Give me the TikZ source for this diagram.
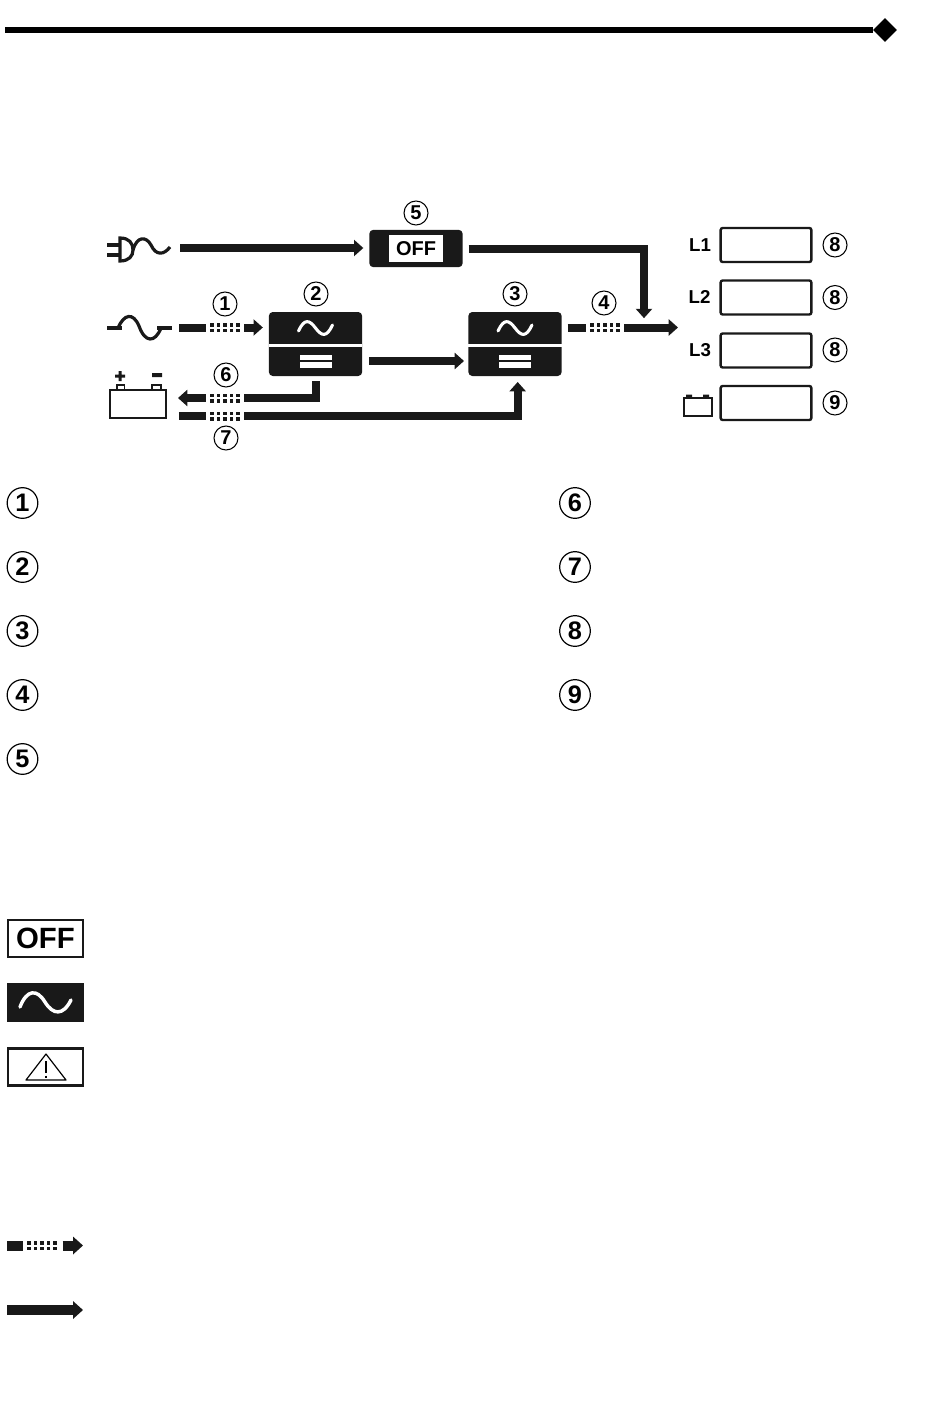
\documentclass[tikz,border=0pt]{standalone}
\usepackage{fontspec}
\setmainfont{Liberation Sans}
\usetikzlibrary{calc,arrows.meta,shapes.geometric}
\tikzset{
  numsmall/.style={circle,draw,line width=.8pt,minimum size=18pt,inner sep=0pt,font=\fontsize{15}{15}\selectfont\bfseries},
  numbig/.style={circle,draw,line width=.9pt,minimum size=23pt,inner sep=0pt,font=\fontsize{19}{19}\selectfont\bfseries},
  upsbox/.style={fill=black!90,rounded corners=3pt,minimum width=70pt,minimum height=48pt,inner sep=0pt,outer sep=0pt},
  display/.style={draw=black!90,line width=1.8pt,rounded corners=1.5pt,minimum width=68pt,minimum height=25.5pt,inner sep=0pt,outer sep=0pt},
  iconbox/.style={draw=black!90,line width=1.8pt,minimum width=56pt,minimum height=28pt,inner sep=0pt,outer sep=0pt},
  bar/.style={draw=black!90,line width=6pt},
  flow/.style={bar,-{Triangle[width=12pt,length=7pt]}},
  dotrun/.style={minimum width=29pt,minimum height=6pt,inner sep=0pt,outer sep=0pt,
    path picture={\foreach \dx in {-13,-6.5,0,6.5,13} \foreach \dy in {-3,3}
      \fill[black!90] ($(path picture bounding box.center)+(\dx,\dy)+(-1.75,-2)$) rectangle +(3.5,4);}},
  acwave/.pic={\draw[white,line width=2.3pt,line cap=round] (-17,3) .. controls (-11,-10) and (-6,-8) .. (0,0) .. controls (6,8) and (11,10) .. (17,-3);},
  icon/.style={black!90,line width=2.4pt}
}
\begin{document}
\begin{tikzpicture}[x=.75pt,y=-.75pt]
\useasboundingbox (0,0) rectangle (950,1409);
% header rule
\node[diamond,fill=black,minimum size=18pt,inner sep=0pt] (mark) at (885,30) {};
\coordinate (rulestart) at (5,30);
\draw[line width=3.8pt] (rulestart) -- (mark);
% blocks
\node[upsbox,minimum height=28pt] (offbox) at (416,248.5) {};
\node[fill=white,minimum width=40.5pt,minimum height=20pt,inner sep=0pt,font=\fontsize{15}{15}\selectfont\bfseries] (offtext) at (416,248.5) {OFF};
\foreach \n/\x in {rectifier/315.5,inverter/515} {
  \node[upsbox] (\n) at (\x,344) {};
  \fill[white] ($(\n.west)+(0,-.5)$) rectangle ($(\n.east)+(0,3)$);
  \pic at (\x,328) {acwave};
  \fill[white] ($(\n.center)+(-16,11)$) rectangle +(32,5);
  \fill[white] ($(\n.center)+(-16,18)$) rectangle +(32,6);
}
% plug
\draw[icon] (107,245) -- (119,245) (107,255) -- (119,255);
\draw[icon,fill=white] (120,238) .. controls (129,238) and (133,243) .. (133,250) .. controls (133,256) and (129,261) .. (120,261) -- cycle;
\draw[icon] (133,250) .. controls (137,236) and (146,236) .. (151,245) .. controls (156,256) and (164,255) .. (170,247);
% mains
\draw[icon] (107,328) -- (122,328) (157,328) -- (172,328);
\draw[icon] (118,328) .. controls (124,314) and (133,312) .. (139,326) .. controls (145,343) and (155,343) .. (161,328);
% battery
\draw[black!90,line width=1.3pt,fill=white] (117,385) rectangle (124.5,390) (152,385) rectangle (161,390);
\node[draw=black!90,line width=2pt,minimum width=42pt,minimum height=21pt,inner sep=0pt,outer sep=0pt] (battery) at (138,404) {};
\fill[black!90] (115,374.5) rectangle (125,377.5) (118.5,371) rectangle (121.5,381) (152,373) rectangle (162,377);
% small battery
\draw[icon,line width=1.6pt] (684,398) rectangle (712,416);
\fill[black!90] (686,394.5) rectangle (692,398) (703,394.5) rectangle (709,398);
% displays
\foreach \n/\y in {loadone/245,loadtwo/297.5,loadthree/350.5,batbar/403} \node[display] (\n) at (766,\y) {};
\foreach \n/\t/\y/\x in {labone/L1/245/700,labtwo/L2/297/699.5,labthree/L3/350/700}
  \node[font=\fontsize{14}{14}\selectfont\bfseries,inner sep=0pt] (\n) at (\x,\y) {\t};
\foreach \n/\k/\y in {tagone/8/245,tagtwo/8/297.5,tagthree/8/350,tagfour/9/403}
  \node[numsmall] (\n) at (835,\y) {\k};
% tags
\foreach \n/\k/\x/\y in {taga/1/225/304,tagb/2/316/294,tagc/3/515/294,tagd/4/604/303,tage/5/416/213,tagf/6/226/375,tagg/7/226/438}
  \node[numsmall] (\n) at (\x,\y) {\k};
% dotted runs
\node[dotrun] (dotsa) at (225,327.5) {};
\node[dotrun] (dotsd) at (605,327.5) {};
\node[dotrun] (dotsf) at (225,398) {};
\node[dotrun] (dotsg) at (225,416) {};
\coordinate (plugend) at (180,248);
\coordinate (mainsend) at (179,327.5);
\coordinate (outjoin) at (644,327.5);
\coordinate (outend) at (678,327.5);
\coordinate (batarrow) at (178,398);
\coordinate (linkstart) at (369,361);
\coordinate (linkend) at (464,361);
% connectors
\draw[flow,shorten >=4.5pt] (plugend) -- (plugend -| offbox.west);
\draw[bar] (mainsend) -- (dotsa.west);
\draw[flow,shorten >=4.5pt] (dotsa.east) -- (dotsa.east -| rectifier.west);
\draw[flow] (linkstart) -- (linkend);
\draw[flow,shorten <=4.5pt,shorten >=7pt] (offbox.east) -| (outjoin);
\draw[bar,shorten <=4.5pt] (inverter.east |- dotsd) -- (dotsd.west);
\draw[flow] (dotsd.east) -- (outend);
\draw[bar,shorten <=3.75pt] (rectifier.south) |- (dotsf.east);
\draw[flow] (dotsf.west) -- (batarrow);
\draw[bar,shorten <=9.7pt] (battery.east |- dotsg) -- (dotsg.west);
\draw[flow,shorten >=4.5pt] (dotsg.east) -| ([xshift=2pt]inverter.south);
% list numbers
\foreach \k/\y in {1/503,2/567,3/631,4/695,5/759} \node[numbig] (keyl\k) at (22.5,\y) {\k};
\foreach \k/\y in {6/503,7/567,8/631,9/695} \node[numbig] (keyr\k) at (575,\y) {\k};
% legend icons
\node[iconbox,font=\fontsize{22}{22}\selectfont\bfseries] (iconoff) at (45.5,938.5) {OFF};
\node[iconbox,fill=black!90] (iconac) at (45.5,1002.5) {};
\draw[white,line width=2.6pt,line cap=round] (20,1007) .. controls (27,989) and (37,989) .. (45,1002) .. controls (53,1015) and (63,1016) .. (71,1000);
\node[iconbox] (iconwarn) at (45.5,1067) {};
\draw[line width=.9pt,line join=round] (46,1054) -- (66,1080) -- (26,1080) -- cycle;
\draw[line width=1pt] (46,1061) -- (46,1073) (46,1075.5) -- (46,1077.5);
% legend arrows
\node[dotrun] (keydots) at (42,1245.5) {};
\coordinate (keystart) at (7,1245.5);
\coordinate (keyend) at (83,1245.5);
\draw[bar,line width=7.5pt] (keystart) -- (keydots.west);
\draw[flow,line width=7.5pt,-{Triangle[width=13pt,length=7.5pt]}] ([xshift=1pt]keydots.east) -- (keyend);
\coordinate (solidstart) at (7,1310);
\coordinate (solidend) at (83,1310);
\draw[flow,line width=7.5pt,-{Triangle[width=13pt,length=7.5pt]}] (solidstart) -- (solidend);
\end{tikzpicture}
\end{document}
